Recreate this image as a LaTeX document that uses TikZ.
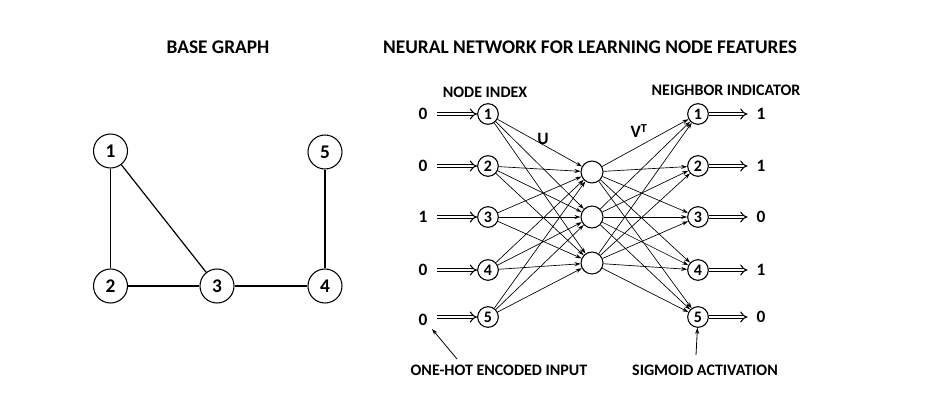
\documentclass[tikz,border=0pt]{standalone}
\usepackage{fontspec}
\setmainfont{Carlito}
\usetikzlibrary{arrows.meta}
\begin{document}
\begin{tikzpicture}[x=0.75pt,y=-0.75pt,
  gnode/.style={draw,circle,thick,minimum size=25.5pt,inner sep=0pt,font=\bfseries\fontsize{14.5}{14.5}\selectfont},
  snode/.style={draw,circle,thick,minimum size=15.5pt,inner sep=0pt,font=\bfseries\fontsize{12}{12}\selectfont},
  hnode/.style={draw,circle,thick,minimum size=16.5pt,inner sep=0pt},
  lbl/.style={font=\bfseries\fontsize{12}{14}\selectfont},
  num/.style={font=\bfseries\fontsize{13}{14}\selectfont},
  ttl/.style={font=\bfseries\fontsize{14.5}{16}\selectfont},
  gedge/.style={line width=0.9pt},
  conn/.style={-{Stealth[length=4.5pt,width=3pt]},line width=0.5pt},
  dbl/.style={double,double distance=2pt,thick,-{Implies}},
  note/.style={-{Stealth[length=4.5pt,width=3pt]},line width=0.6pt}]
\useasboundingbox (0,0) rectangle (952,414);
% titles
\node[ttl] (t1) at (218,47) {BASE GRAPH};
\node[ttl] (t2) at (590,47) {NEURAL NETWORK FOR LEARNING NODE FEATURES};
% base graph
\node[gnode] (g1) at (110.5,151) {1};
\node[gnode] (g2) at (110.5,286) {2};
\node[gnode] (g3) at (217,286) {3};
\node[gnode] (g4) at (325,286) {4};
\node[gnode] (g5) at (325,152) {5};
\draw[gedge] (g1) -- (g2);
\draw[gedge] (g1) -- (g3);
\draw[gedge] (g2) -- (g3);
\draw[gedge] (g3) -- (g4);
\draw[gedge] (g4) -- (g5);
% network
\foreach \i/\y in {1/114,2/166,3/217,4/270,5/317}{
  \node[snode] (i\i) at (488,\y) {\i};
  \node[snode] (o\i) at (698,\y) {\i};
}
\foreach \j/\y in {1/172,2/217,3/263}{
  \node[hnode] (h\j) at (592,\y) {};
}
\foreach \i in {1,...,5}{
  \foreach \j in {1,2,3}{
    \draw[conn] (i\i) -- (h\j);
    \draw[conn] (h\j) -- (o\i);
  }
}
% inputs
\node[num] (in1) at (423,114) {0};
\node[num] (in2) at (423,166) {0};
\node[num] (in3) at (423,217) {1};
\node[num] (in4) at (423,270) {0};
\node[num] (in5) at (423,320) {0};
\foreach \i in {1,...,5}{
  \coordinate (ia\i) at ([xshift=-30pt]i\i.west);
  \draw[dbl] (ia\i) -- (i\i.west);
}
\node[num] (out1) at (761,114) {1};
\node[num] (out2) at (761,166) {1};
\node[num] (out3) at (761,217) {0};
\node[num] (out4) at (761,270) {1};
\node[num] (out5) at (761,317) {0};
\foreach \i in {1,...,5}{
  \coordinate (oa\i) at ([xshift=29pt]o\i.east);
  \draw[dbl] (o\i.east) -- (oa\i);
}
% labels
\node[lbl] (ni) at (485,92) {NODE INDEX};
\node[lbl] (nb) at (726,90) {NEIGHBOR INDICATOR};
\node[num] (U) at (543,139) {U};
\node[num] (V) at (639,131) {V\textsuperscript{T}};
\node[lbl] (oh) at (499,370) {ONE-HOT ENCODED INPUT};
\node[lbl] (sa) at (705,370) {SIGMOID ACTIVATION};
\coordinate (oht) at (457,359);
\coordinate (ohh) at (432,329);
\draw[note] (oht) -- (ohh);
\coordinate (sat) at (696,355);
\draw[note] (sat) -- (o5);
\end{tikzpicture}
\end{document}
